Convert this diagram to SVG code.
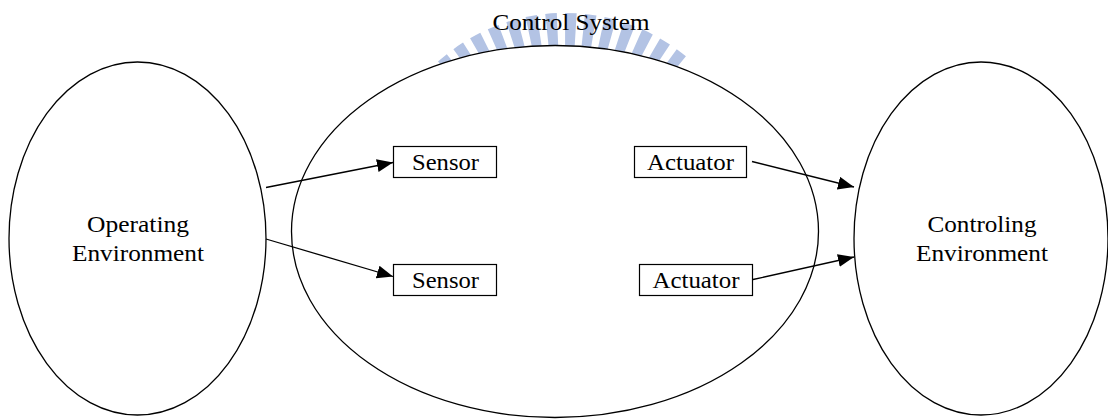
<svg xmlns="http://www.w3.org/2000/svg" width="1108" height="419" viewBox="0 0 1108 419">
  <style>
    .shape { fill: #ffffff; stroke: #000000; stroke-width: 1.3; }
    .box { fill: #ffffff; stroke: #000000; stroke-width: 1.2; }
    .lbl { font-family: 'Liberation Serif', 'DejaVu Serif', serif; font-size: 23px; fill: #000000; text-anchor: middle; }
    .conn { stroke: #000000; stroke-width: 1.3; fill: none; marker-end: url(#head); }
  </style>
  <defs>
    <marker id="head" markerUnits="userSpaceOnUse" markerWidth="18" markerHeight="14" refX="16" refY="6.5" orient="auto">
      <path d="M0,0 L16,6.5 L0,13 Z" fill="#000000"/>
    </marker>
  </defs>

  <rect width="1108" height="419" fill="#ffffff"/>

  <!-- decorative dashed arc behind the title -->
  <path id="badge" d="M450,75 A172,172 0 0 1 680,75" fill="none" stroke="#b3c3e4" stroke-width="36" stroke-dasharray="10.5 7.5"/>

  <g id="operating-environment">
    <ellipse class="shape" cx="137.5" cy="238.5" rx="128.5" ry="176.5"/>
    <text class="lbl" x="138" y="232" textLength="102" lengthAdjust="spacingAndGlyphs">Operating</text>
    <text class="lbl" x="138" y="261" textLength="132" lengthAdjust="spacingAndGlyphs">Environment</text>
  </g>

  <g id="control-system">
    <ellipse class="shape" cx="555" cy="231.5" rx="263.5" ry="186"/>
  </g>
  <text id="control-system-title" class="lbl" x="571" y="30" textLength="157" lengthAdjust="spacingAndGlyphs">Control System</text>

  <g id="controling-environment">
    <ellipse class="shape" cx="981" cy="238.5" rx="127" ry="176.5"/>
    <text class="lbl" x="982" y="232" textLength="109" lengthAdjust="spacingAndGlyphs">Controling</text>
    <text class="lbl" x="982" y="261" textLength="132" lengthAdjust="spacingAndGlyphs">Environment</text>
  </g>

  <g id="sensor-1">
    <rect class="box" x="393.5" y="146.5" width="103" height="31"/>
    <text class="lbl" x="445.5" y="170" textLength="67" lengthAdjust="spacingAndGlyphs">Sensor</text>
  </g>
  <g id="sensor-2">
    <rect class="box" x="393.5" y="264.5" width="103" height="31"/>
    <text class="lbl" x="445.5" y="288" textLength="67" lengthAdjust="spacingAndGlyphs">Sensor</text>
  </g>
  <g id="actuator-1">
    <rect class="box" x="634.5" y="146.5" width="112" height="31"/>
    <text class="lbl" x="690.5" y="170" textLength="87" lengthAdjust="spacingAndGlyphs">Actuator</text>
  </g>
  <g id="actuator-2">
    <rect class="box" x="639.5" y="264.5" width="113" height="31"/>
    <text class="lbl" x="696" y="288" textLength="87" lengthAdjust="spacingAndGlyphs">Actuator</text>
  </g>

  <g id="connectors">
    <line class="conn" x1="266" y1="187.5" x2="393" y2="162.5"/>
    <line class="conn" x1="266" y1="239" x2="393" y2="276.5"/>
    <line class="conn" x1="752" y1="161.5" x2="854" y2="187"/>
    <line class="conn" x1="753" y1="279.5" x2="854" y2="257"/>
  </g>
</svg>
